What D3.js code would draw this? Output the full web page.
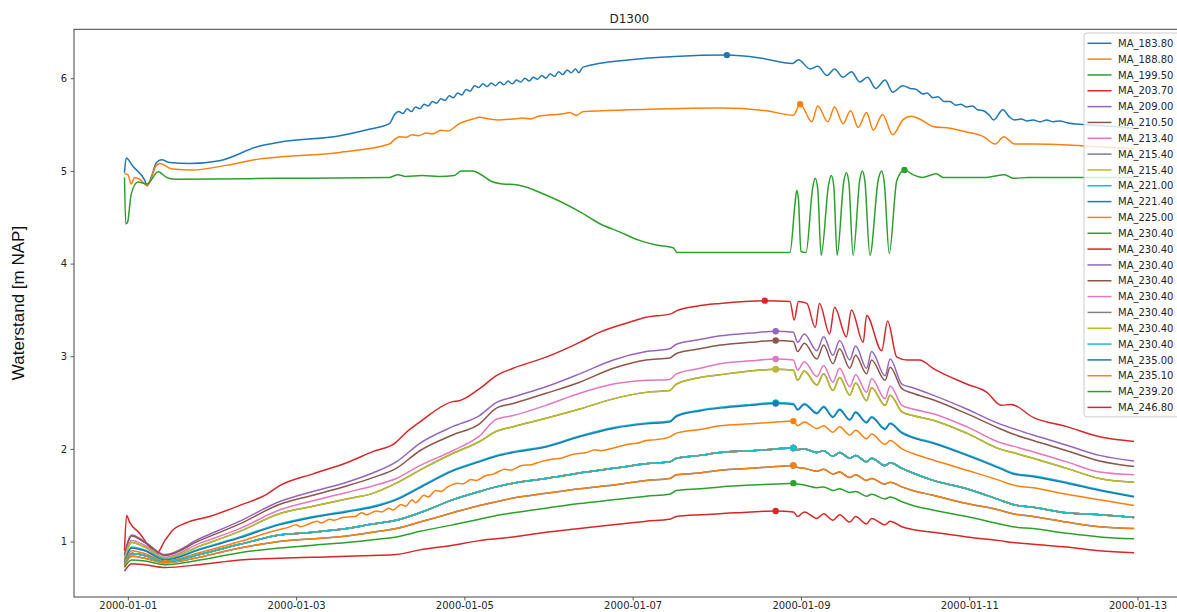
<!DOCTYPE html>
<html>
<head>
<meta charset="utf-8">
<script src="https://cdn.jsdelivr.net/npm/d3@7"></script>
<style>
  html, body { margin: 0; padding: 0; background: #fff; }
  svg { display: block; }
</style>
</head>
<body>
<svg id="chart" width="1177" height="612"></svg>
<script>
// ---- labels -------------------------------------------------------------
const TITLE = "D1300";
const Y_LABEL = "Waterstand [m NAP]";
const X_TICKS = ["2000-01-01", "2000-01-03", "2000-01-05", "2000-01-07", "2000-01-09", "2000-01-11", "2000-01-13"];
const Y_TICKS = [1, 2, 3, 4, 5, 6];

// ---- water levels (m NAP), time in days since 2000-01-01 00:00 ---------
// gauges with their own time stamps [day, level]
const ptsT1 = [[-0.04,4.98],[-0.02,5.14],[0.06,5.05],[0.20,4.90],[0.23,4.84],[0.28,4.94],[0.34,5.09],[0.40,5.12],[0.50,5.09],[0.73,5.08],[1.09,5.11],[1.57,5.27],[1.80,5.31],[2.52,5.38],[2.87,5.45],[3.11,5.51],[3.17,5.61],
  [3.22,5.64],[3.27,5.62],[3.32,5.67],[3.37,5.64],[3.42,5.69],[3.47,5.67],[3.52,5.72],[3.57,5.70],[3.62,5.75],[3.67,5.73],[3.72,5.78],[3.77,5.76],[3.82,5.81],[3.87,5.79],[3.92,5.84],[3.97,5.82],[4.02,5.88],[4.07,5.86],[4.12,5.92],[4.17,5.90],[4.22,5.94],[4.27,5.91],[4.32,5.95],[4.37,5.92],[4.42,5.96],[4.47,5.93],[4.52,5.97],[4.57,5.94],[4.62,5.98],[4.67,5.96],[4.72,6.00],[4.77,5.97],[4.82,6.01],[4.87,5.99],[4.92,6.03],[4.97,6.00],[5.02,6.05],[5.07,6.02],[5.12,6.07],[5.17,6.04],[5.22,6.09],[5.27,6.06],[5.32,6.10],[5.36,6.06],[5.41,6.12],
  [5.97,6.20],[6.50,6.235],[7.12,6.25],[7.51,6.22],[7.90,6.16],[7.97,6.20],[8.11,6.10],[8.20,6.13],[8.31,6.03],[8.40,6.10],[8.50,6.01],[8.60,6.07],[8.70,5.96],[8.79,6.01],[8.89,5.89],[9.00,5.98],[9.09,5.85],[9.21,5.92],[9.30,5.89],[9.37,5.88],[9.45,5.83],[9.50,5.84],[9.57,5.79],[9.63,5.80],[9.70,5.75],[9.77,5.75],[9.84,5.71],[9.90,5.72],[9.97,5.69],[10.04,5.70],[10.10,5.66],[10.17,5.65],[10.24,5.60],[10.29,5.55],[10.40,5.66],[10.48,5.58],[10.54,5.55],[10.62,5.56],[10.68,5.54],[10.76,5.55],[10.84,5.53],[10.92,5.55],[11.00,5.53],[11.08,5.54],[11.16,5.52],[11.36,5.50],[11.55,5.49],[11.96,5.46]];

const ptsT2 = [[-0.04,4.97],[0.00,4.96],[0.04,4.86],[0.08,4.93],[0.14,4.91],[0.23,4.84],[0.34,5.06],[0.38,5.08],[0.53,5.02],[0.77,5.01],[1.17,5.06],[1.57,5.13],[1.80,5.15],[2.52,5.20],[3.11,5.29],[3.17,5.34],[3.23,5.37],[3.30,5.36],[3.38,5.39],[3.45,5.38],[3.55,5.41],[3.62,5.40],[3.72,5.44],[3.80,5.43],[3.94,5.51],[4.10,5.56],[4.18,5.58],[4.30,5.56],[4.40,5.55],[4.57,5.56],[4.70,5.57],[4.78,5.56],[4.88,5.59],[4.98,5.60],[5.10,5.61],[5.20,5.62],[5.25,5.63],[5.33,5.60],[5.41,5.64],[5.97,5.66],[7.04,5.68],[7.59,5.65],[7.91,5.60],
  [7.99,5.72],[8.13,5.53],[8.20,5.70],[8.32,5.53],[8.40,5.69],[8.50,5.51],[8.59,5.65],[8.68,5.47],[8.78,5.63],[8.86,5.44],[8.97,5.61],[9.09,5.39],[9.22,5.56],[9.31,5.59],[9.41,5.56],[9.57,5.48],[9.77,5.46],[9.97,5.42],[10.17,5.37],[10.31,5.29],[10.41,5.37],[10.54,5.29],[10.76,5.29],[11.16,5.28],[11.36,5.27],[11.96,5.24]];

const ptsT3 = [[-0.04,4.93],[-0.025,4.43],[-0.005,4.44],[0.04,4.75],[0.12,4.88],[0.23,4.86],[0.36,4.99],[0.46,4.93],[0.56,4.91],[1.80,4.92],[3.11,4.93],[3.21,4.96],[3.30,4.94],[3.50,4.95],[3.70,4.94],[3.88,4.95],[3.96,5.00],[4.10,5.00],[4.18,4.97],[4.34,4.88],[4.46,4.86],[4.62,4.85],[4.97,4.74],[5.37,4.56],[5.61,4.43],[5.85,4.34],[6.08,4.25],[6.28,4.20],[6.48,4.17],[6.53,4.12],[7.87,4.12],
  [7.93,4.65],[7.95,4.79],[7.97,4.70],[8.00,4.13],[8.06,4.12],[8.14,4.82],[8.17,4.92],[8.20,4.80],[8.24,4.09],[8.33,4.86],[8.36,4.95],[8.39,4.84],[8.43,4.09],[8.51,4.89],[8.54,4.98],[8.57,4.87],[8.62,4.09],[8.70,4.91],[8.73,5.00],[8.76,4.89],[8.82,4.09],[8.92,4.91],[8.96,5.00],[8.99,4.88],[9.05,4.11],[9.14,4.90],[9.23,5.01],[9.33,4.96],[9.45,4.93],[9.53,4.95],[9.61,4.97],[9.69,4.93],[9.90,4.93],[10.20,4.93],[10.42,4.96],[10.52,4.92],[10.70,4.93],[11.20,4.93],[11.96,4.93]];

const ptsR1 = [[-0.04,0.90],[-0.015,1.28],[0.02,1.21],[0.14,1.09],[0.26,0.94],[0.34,0.87],[0.44,1.01],[0.53,1.12],[0.69,1.20],[0.97,1.27],[1.33,1.39],[1.65,1.51],[1.80,1.60],[2.20,1.73],[2.60,1.85],[2.91,1.97],[3.17,2.06],[3.31,2.18],[3.47,2.29],[3.86,2.51],[3.94,2.52],[4.18,2.65],[4.38,2.79],[4.58,2.87],[4.97,2.99],[5.37,3.15],[5.61,3.26],[5.97,3.37],[6.16,3.42],[6.46,3.46],[6.52,3.49],[6.76,3.54],[7.04,3.57],[7.57,3.60],[7.87,3.59],
  [7.92,3.39],[7.97,3.59],[8.07,3.57],[8.17,3.31],[8.22,3.57],[8.34,3.24],[8.40,3.53],[8.54,3.21],[8.60,3.50],[8.74,3.15],[8.78,3.44],[8.96,3.06],[9.03,3.38],[9.14,2.99],[9.26,2.96],[9.41,2.96],[9.57,2.87],[9.97,2.70],[10.21,2.61],[10.38,2.47],[10.50,2.48],[10.76,2.34],[11.16,2.24],[11.55,2.13],[11.96,2.08]];

// MA_225.00 is a restless gauge: its record carries small jumps
const ptsOR = [[-0.04,0.76],[0.045,0.90],[0.20,0.87],[0.44,0.79],[0.85,0.88],[1.33,1.00],[1.80,1.13],[1.90,1.15],[2.00,1.18],[2.05,1.16],[2.15,1.19],[2.25,1.22],[2.30,1.20],[2.40,1.24],[2.45,1.23],[2.55,1.26],[2.70,1.27],[2.78,1.31],[2.84,1.29],[2.95,1.33],[3.02,1.32],[3.10,1.36],[3.15,1.34],[3.25,1.40],[3.30,1.38],[3.38,1.45],[3.42,1.42],[3.52,1.50],[3.57,1.48],[3.66,1.55],[3.72,1.54],[3.80,1.59],[3.92,1.63],[3.98,1.62],[4.08,1.67],[4.14,1.66],[4.25,1.71],[4.35,1.73],[4.48,1.78],[4.55,1.77],[4.68,1.82],[4.80,1.83],[4.90,1.86],[5.05,1.89],[5.15,1.90],[5.28,1.94],[5.45,1.96],[5.55,1.99],[5.62,1.98],[5.77,2.01],[5.95,2.05],[6.05,2.06],[6.16,2.09],[6.28,2.10],[6.44,2.13],[6.52,2.17],[6.80,2.21],[7.04,2.25],[7.40,2.27],[7.70,2.29],[7.91,2.30],
  [7.96,2.25],[8.04,2.29],[8.19,2.22],[8.27,2.25],[8.38,2.18],[8.46,2.24],[8.58,2.15],[8.65,2.20],[8.78,2.11],[8.84,2.16],[9.00,2.05],[9.06,2.09],[9.20,2.00],[9.33,1.95],[9.57,1.88],[9.97,1.77],[10.36,1.66],[10.52,1.61],[10.76,1.58],[11.16,1.51],[11.55,1.45],[11.96,1.39]];

// remaining downstream gauges share one time grid
const tLow = [-0.04,0.045,0.20,0.44,0.85,1.33,1.80,2.20,2.60,2.91,3.19,3.47,3.86,4.18,4.38,4.58,4.97,5.37,5.77,6.16,6.44,6.52,6.80,7.04,7.40,7.70,7.91,7.96,8.04,8.19,8.27,8.38,8.46,8.58,8.65,8.78,8.84,9.00,9.06,9.20,9.33,9.57,9.97,10.36,10.52,10.76,11.16,11.55,11.96];
const valP  = [0.86,1.07,1.00,0.86,1.03,1.22,1.43,1.54,1.64,1.74,1.86,2.06,2.24,2.36,2.50,2.56,2.67,2.81,2.96,3.05,3.08,3.13,3.18,3.22,3.25,3.27,3.26,3.15,3.24,3.06,3.21,3.01,3.17,2.96,3.11,2.87,3.05,2.79,2.97,2.70,2.66,2.58,2.43,2.27,2.22,2.15,2.04,1.93,1.87];
const valB  = [0.85,1.06,0.99,0.85,1.01,1.19,1.40,1.50,1.60,1.69,1.79,1.98,2.15,2.27,2.44,2.49,2.60,2.72,2.87,2.96,2.98,3.03,3.08,3.12,3.15,3.17,3.16,3.05,3.14,2.97,3.12,2.92,3.08,2.87,3.01,2.81,2.96,2.74,2.88,2.65,2.60,2.53,2.38,2.22,2.16,2.09,1.98,1.87,1.81];
const valPK = [0.82,1.01,0.96,0.83,0.98,1.14,1.34,1.44,1.53,1.60,1.68,1.82,1.98,2.14,2.32,2.36,2.47,2.60,2.70,2.74,2.75,2.81,2.87,2.92,2.95,2.97,2.96,2.85,2.94,2.78,2.90,2.72,2.87,2.67,2.80,2.61,2.76,2.54,2.68,2.47,2.43,2.38,2.24,2.07,2.03,1.97,1.86,1.75,1.72];
const valOL = [0.80,0.99,0.94,0.82,0.95,1.11,1.30,1.38,1.46,1.52,1.63,1.77,1.95,2.08,2.19,2.24,2.33,2.43,2.54,2.61,2.63,2.70,2.77,2.80,2.84,2.86,2.85,2.74,2.84,2.69,2.81,2.63,2.77,2.58,2.71,2.52,2.66,2.47,2.58,2.40,2.36,2.31,2.17,2.00,1.96,1.90,1.79,1.68,1.64];
const valC1 = [0.78,0.94,0.91,0.81,0.92,1.05,1.19,1.27,1.33,1.38,1.46,1.59,1.77,1.87,1.93,1.97,2.03,2.14,2.23,2.28,2.30,2.36,2.42,2.45,2.48,2.50,2.49,2.43,2.49,2.39,2.46,2.35,2.43,2.32,2.40,2.29,2.35,2.22,2.28,2.18,2.13,2.07,1.94,1.80,1.74,1.71,1.64,1.56,1.49];
const valBL = [0.77,0.93,0.90,0.80,0.91,1.04,1.18,1.26,1.32,1.37,1.45,1.58,1.76,1.86,1.92,1.96,2.02,2.13,2.22,2.27,2.29,2.35,2.41,2.44,2.47,2.49,2.48,2.42,2.48,2.38,2.45,2.34,2.42,2.31,2.39,2.28,2.34,2.21,2.27,2.17,2.12,2.06,1.93,1.79,1.73,1.70,1.63,1.55,1.48];
const valCY = [0.75,0.87,0.85,0.78,0.86,0.97,1.07,1.10,1.14,1.19,1.23,1.31,1.45,1.54,1.59,1.63,1.68,1.74,1.79,1.84,1.86,1.90,1.93,1.96,1.98,2.00,2.01,1.99,2.00,1.96,1.98,1.92,1.96,1.90,1.93,1.86,1.90,1.82,1.85,1.79,1.74,1.66,1.57,1.45,1.40,1.37,1.31,1.29,1.26];
const valO2 = [0.74,0.84,0.82,0.77,0.83,0.93,1.00,1.03,1.06,1.10,1.14,1.21,1.31,1.39,1.43,1.47,1.52,1.57,1.61,1.66,1.68,1.72,1.74,1.77,1.79,1.81,1.82,1.80,1.79,1.76,1.78,1.73,1.75,1.69,1.72,1.66,1.68,1.62,1.64,1.59,1.55,1.50,1.41,1.34,1.30,1.27,1.21,1.16,1.14];
const valG  = [0.72,0.80,0.79,0.75,0.80,0.88,0.93,0.96,0.99,1.02,1.05,1.11,1.18,1.24,1.28,1.31,1.36,1.41,1.45,1.49,1.51,1.55,1.57,1.59,1.61,1.62,1.63,1.62,1.61,1.58,1.59,1.55,1.57,1.53,1.54,1.49,1.51,1.46,1.48,1.43,1.39,1.34,1.27,1.19,1.16,1.14,1.09,1.05,1.03];
const valR2 = [0.68,0.76,0.75,0.72,0.75,0.80,0.82,0.83,0.84,0.85,0.86,0.91,0.96,1.01,1.03,1.05,1.10,1.14,1.18,1.22,1.24,1.27,1.29,1.30,1.32,1.33,1.32,1.27,1.32,1.25,1.30,1.23,1.29,1.21,1.27,1.19,1.25,1.18,1.22,1.16,1.13,1.10,1.05,1.01,0.99,0.97,0.94,0.90,0.88];

const onLowGrid = vals => d3.zip(tLow, vals);

// gauge names and line colours (matplotlib tab10 cycle)
const NAMES = ["MA_183.80","MA_188.80","MA_199.50","MA_203.70","MA_209.00","MA_210.50","MA_213.40","MA_215.40","MA_215.40","MA_221.00","MA_221.40","MA_225.00",
               "MA_230.40","MA_230.40","MA_230.40","MA_230.40","MA_230.40","MA_230.40","MA_230.40","MA_230.40","MA_235.00","MA_235.10","MA_239.20","MA_246.80"];
const PALETTE = ["#1f77b4","#ff7f0e","#2ca02c","#d62728","#9467bd","#8c564b","#e377c2","#7f7f7f","#bcbd22","#17becf"];
const DATA = [ptsT1, ptsT2, ptsT3, ptsR1,
  onLowGrid(valP), onLowGrid(valB), onLowGrid(valPK), onLowGrid(valOL), onLowGrid(valOL),
  onLowGrid(valC1), onLowGrid(valBL), ptsOR,
  onLowGrid(valCY), onLowGrid(valCY), onLowGrid(valCY), onLowGrid(valCY), onLowGrid(valCY), onLowGrid(valCY), onLowGrid(valCY), onLowGrid(valCY),
  onLowGrid(valO2), onLowGrid(valO2), onLowGrid(valG), onLowGrid(valR2)];

const series = NAMES.map((name, i) => ({ name, color: PALETTE[i % PALETTE.length], data: DATA[i] }));

// ---- layout -------------------------------------------------------------
const plot = { left: 74, right: 1184.6, top: 29.3, bottom: 597 };
const DAY = 864e5, ORIGIN = Date.UTC(2000, 0, 1);
const toDate = t => new Date(ORIGIN + t * DAY);

const svg = d3.select("#chart");

const allPts = series.flatMap(s => s.data);
const tExt = d3.extent(allPts, d => d[0]);
const vExt = d3.extent(allPts, d => d[1]);
const tPad = (tExt[1] - tExt[0]) * 0.05;
const vPad = (vExt[1] - vExt[0]) * 0.05;

const x = d3.scaleUtc()
  .domain([toDate(tExt[0] - tPad), toDate(tExt[1] + tPad)])
  .range([plot.left, plot.right]);
const y = d3.scaleLinear()
  .domain([vExt[0] - vPad, vExt[1] + vPad])
  .range([plot.bottom, plot.top]);

const tickFont = "DejaVu Sans, sans-serif";
const parseDay = d3.utcParse("%Y-%m-%d");

// ---- axes -----------------------------------------------------------------
const xAxis = svg.append("g")
  .attr("transform", `translate(0,${plot.bottom})`)
  .call(d3.axisBottom(x)
    .tickValues(X_TICKS.map(parseDay))
    .tickFormat(d3.utcFormat("%Y-%m-%d"))
    .tickSizeInner(3.5).tickSizeOuter(0).tickPadding(1.6));
xAxis.select(".domain").remove();
xAxis.selectAll("line").attr("stroke", "#333").attr("stroke-width", 0.8);
xAxis.selectAll("text").attr("font-family", tickFont).attr("font-size", 10).attr("fill", "#262626");

const yAxis = svg.append("g")
  .attr("transform", `translate(${plot.left},0)`)
  .call(d3.axisLeft(y).tickValues(Y_TICKS).tickFormat(d3.format("d"))
    .tickSizeInner(3.5).tickSizeOuter(0).tickPadding(3.5));
yAxis.select(".domain").remove();
yAxis.selectAll("line").attr("stroke", "#333").attr("stroke-width", 0.8);
yAxis.selectAll("text").attr("font-family", tickFont).attr("font-size", 10).attr("fill", "#262626");

// ---- lines and maximum markers ---------------------------------------------
const line = d3.line()
  .x(d => x(toDate(d[0])))
  .y(d => y(d[1]))
  .curve(d3.curveMonotoneX);

svg.append("defs").append("clipPath").attr("id", "plotArea")
  .append("rect").attr("x", plot.left).attr("y", plot.top)
  .attr("width", plot.right - plot.left).attr("height", plot.bottom - plot.top);

const gLines = svg.append("g").attr("clip-path", "url(#plotArea)");
series.forEach(s => {
  gLines.append("path")
    .datum(s.data)
    .attr("fill", "none")
    .attr("stroke", s.color)
    .attr("stroke-width", 1.5)
    .attr("stroke-linejoin", "round")
    .attr("d", line);
  const top = d3.greatest(s.data, d => d[1]);
  gLines.append("circle")
    .attr("cx", x(toDate(top[0])))
    .attr("cy", y(top[1]))
    .attr("r", 3.2)
    .attr("fill", s.color);
});

// ---- frame ---------------------------------------------------------------------
svg.append("rect")
  .attr("x", plot.left).attr("y", plot.top)
  .attr("width", plot.right - plot.left).attr("height", plot.bottom - plot.top)
  .attr("fill", "none").attr("stroke", "#444").attr("stroke-width", 1);

// ---- title and axis label ----------------------------------------------------
svg.append("text")
  .attr("x", (plot.left + plot.right) / 2).attr("y", 22.6)
  .attr("text-anchor", "middle")
  .attr("font-family", tickFont).attr("font-size", 12).attr("fill", "#262626")
  .text(TITLE);

svg.append("text")
  .attr("transform", `translate(24,303) rotate(-90)`)
  .attr("text-anchor", "middle")
  .attr("font-family", "Liberation Sans, Arial, sans-serif").attr("font-size", 17).attr("fill", "#111")
  .text(Y_LABEL);

// ---- legend ----------------------------------------------------------------------
const leg = { x: 1084, y: 33, rowH: 15.83, firstY: 43.3 };
const gLeg = svg.append("g");
gLeg.append("rect")
  .attr("x", leg.x).attr("y", leg.y)
  .attr("width", 130).attr("height", leg.firstY - leg.y + (series.length - 1) * leg.rowH + 9.5)
  .attr("rx", 3)
  .attr("fill", "#fff").attr("fill-opacity", 0.8)
  .attr("stroke", "#cccccc").attr("stroke-width", 1);
series.forEach((s, i) => {
  const yy = leg.firstY + i * leg.rowH;
  gLeg.append("line")
    .attr("x1", leg.x + 3.5).attr("x2", leg.x + 27.5)
    .attr("y1", yy).attr("y2", yy)
    .attr("stroke", s.color).attr("stroke-width", 1.5);
  gLeg.append("text")
    .attr("x", leg.x + 34).attr("y", yy + 3.6)
    .attr("font-family", tickFont).attr("font-size", 10).attr("fill", "#262626")
    .text(s.name);
});
</script>
</body>
</html>
